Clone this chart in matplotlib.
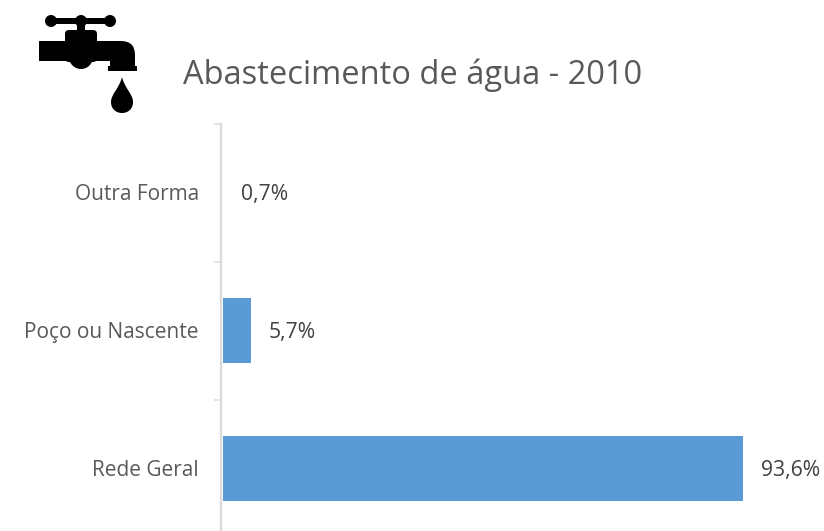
import matplotlib
matplotlib.use('Agg')
import matplotlib.pyplot as plt
from matplotlib.patches import Rectangle, Circle, PathPatch, FancyBboxPatch
from matplotlib.path import Path

categories = ['Rede Geral', 'Poço ou Nascente', 'Outra Forma']
values = [93.6, 5.7, 0.7]
labels = ['93,6%', '5,7%', '0,7%']
title = 'Abastecimento de água - 2010'

plt.rcParams['font.family'] = ['Open Sans', 'DejaVu Sans']

W, H = 824, 531
fig = plt.figure(figsize=(W/100, H/100), dpi=100)

# axis does not start at 0 in the original, the 0,7 bar has no width
px_per_unit = 5.6
x_start = 0.7
ax = fig.add_axes([223/W, -6.5/H, (W-223)/W, 414/H])
ax.patch.set_visible(False)
ax.barh(range(3), values, height=0.47, color='#5B9BD5')
ax.set_xlim(x_start, x_start + (W-223)/px_per_unit)
ax.set_ylim(-0.5, 2.5)
ax.set_yticks([-0.5, 0.5, 1.5, 2.5])
ax.set_yticklabels([])
ax.set_xticks([])
for s in ['top', 'right', 'bottom']:
    ax.spines[s].set_visible(False)
ax.spines['left'].set_color('#DCDCDC')
ax.spines['left'].set_linewidth(1.7)
ax.spines['left'].set_position(('outward', 1.5))
ax.tick_params(axis='y', color='#DCDCDC', length=5, width=1.1)

for i, c in enumerate(categories):
    ax.annotate(c, (x_start, i), xytext=(-24, -2), textcoords='offset pixels', ha='right', va='center',
                fontsize=15, color='#595959', annotation_clip=False)
for i, v in enumerate(values):
    ax.annotate(labels[i], (v, i), xytext=(18, -2), textcoords='offset pixels', ha='left', va='center',
                fontsize=15.2, color='#404040', annotation_clip=False)

fig.text(183/W, 1-75.5/H, title, fontsize=23.5, color='#595959', ha='left', va='center')

# tap icon, drawn in pixel coordinates
icon = fig.add_axes([0, 0, 1, 1], zorder=5)
icon.set_xlim(0, W)
icon.set_ylim(H, 0)
icon.axis('off')
icon.add_patch(Rectangle((51, 18), 59, 6, color='k', lw=0))
for kx in [51, 81, 110]:
    icon.add_patch(Circle((kx, 21), 6, color='k', lw=0))
icon.add_patch(Rectangle((77, 21), 8, 12, color='k', lw=0))
icon.add_patch(FancyBboxPatch((69, 34), 24, 24, boxstyle='round,pad=4', color='k', lw=0))
icon.add_patch(Circle((81, 57), 12, color='k', lw=0))
icon.add_patch(PathPatch(Path([(39, 41), (121, 41), (135, 41), (135, 55), (135, 66), (137, 66), (137, 71),
                               (108, 71), (108, 66), (110, 66), (110, 61), (39, 61), (39, 41)],
                              [Path.MOVETO, Path.LINETO, Path.CURVE3, Path.CURVE3] + [Path.LINETO]*8 + [Path.CLOSEPOLY]),
                         color='k', lw=0))
icon.add_patch(PathPatch(Path([(122, 77), (119, 89), (111, 94), (111, 102), (111, 109), (116, 113), (122, 113),
                               (128, 113), (133, 109), (133, 102), (133, 94), (125, 89), (122, 77)],
                              [Path.MOVETO] + [Path.CURVE4]*12), color='k', lw=0))

fig.savefig('out.png', dpi=100)
